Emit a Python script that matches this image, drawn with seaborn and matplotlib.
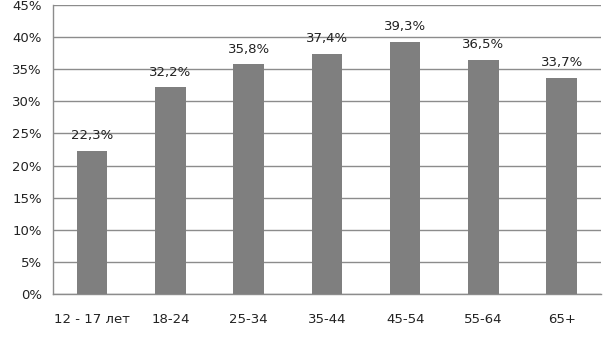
import pandas as pd
import seaborn as sns
import matplotlib.pyplot as plt

# --- data ---
groups = ['12 - 17 лет', '18-24', '25-34', '35-44', '45-54', '55-64', '65+']
shares = [22.3, 32.2, 35.8, 37.4, 39.3, 36.5, 33.7]
y_ticks = [0, 5, 10, 15, 20, 25, 30, 35, 40, 45]

df = pd.DataFrame({'group': groups, 'share': shares})

sns.set_style('white')
plt.rcParams['font.family'] = ['DejaVu Sans']

fig = plt.figure(figsize=(6.13, 3.37), dpi=100)
ax = fig.add_axes([0.0865, 0.1276, 0.8935, 0.8576])

sns.barplot(data=df, x='group', y='share', color='#7f7f7f', saturation=1,
            width=0.39, linewidth=0, ax=ax)
for p in ax.patches:
    p.set_zorder(3)

ax.set_ylim(0, 45)
ax.set_xlim(-0.5, len(groups) - 0.5)
ax.set_yticks(y_ticks)
ax.set_yticklabels([f'{t}%' for t in y_ticks], fontsize=9.5, color='#222222')
ax.yaxis.grid(True, color='#8c8c8c', linewidth=1, zorder=0)
ax.set_axisbelow(True)

# category boundary ticks on x axis
ax.set_xticks([i - 0.5 for i in range(len(groups) + 1)], minor=True)
ax.tick_params(axis='x', which='minor', length=5, width=1, color='#8c8c8c', direction='out')
ax.tick_params(axis='x', which='major', length=0, pad=14, labelsize=9.5, labelcolor='#222222')
ax.tick_params(axis='y', length=5, width=1, color='#8c8c8c', direction='out', pad=3)

for s in ['top', 'right']:
    ax.spines[s].set_visible(False)
for s in ['left', 'bottom']:
    ax.spines[s].set_color('#8c8c8c')
    ax.spines[s].set_linewidth(1)

for c in ax.containers:
    ax.bar_label(c, labels=[f'{v:.1f}%'.replace('.', ',') for v in shares],
                 padding=6, fontsize=9.5, color='#222222')

ax.set_xlabel('')
ax.set_ylabel('')

fig.savefig('out.png', dpi=100)
